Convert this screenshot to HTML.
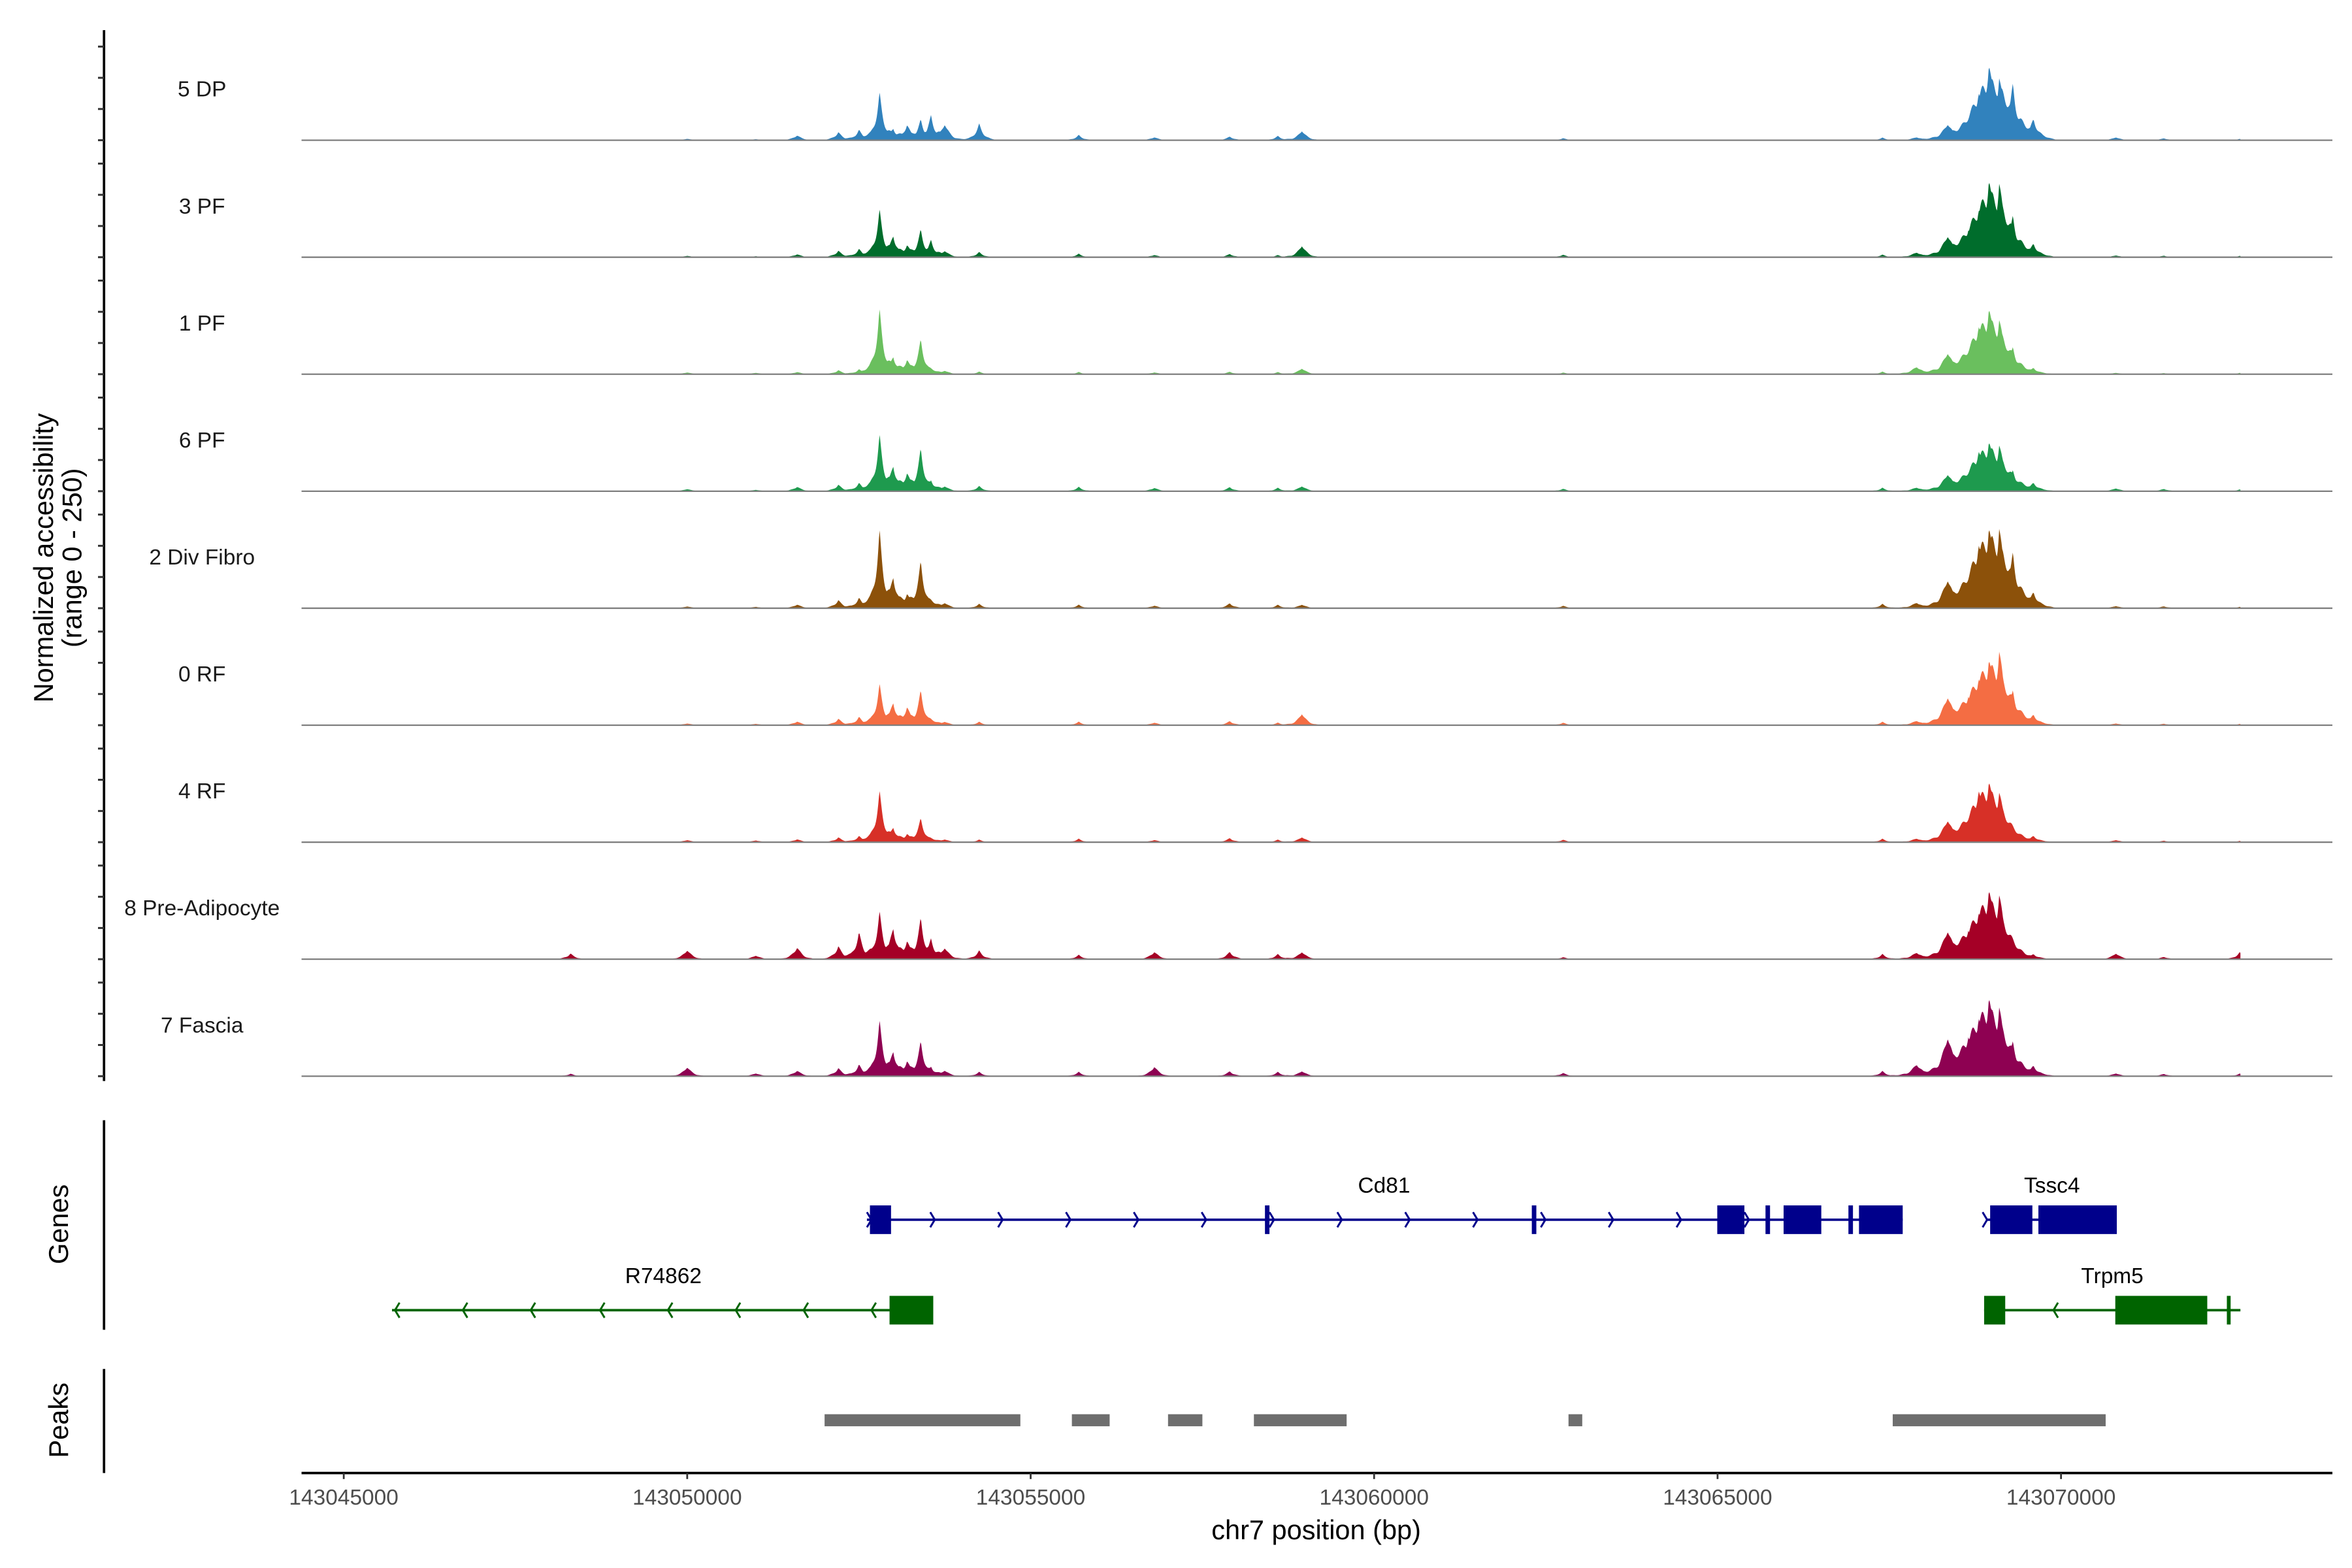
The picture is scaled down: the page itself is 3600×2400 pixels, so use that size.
<!DOCTYPE html>
<html><head><meta charset="utf-8"><style>html,body{margin:0;padding:0;background:#fff}svg{display:block}text{font-family:"Liberation Sans",sans-serif}</style></head>
<body>
<svg id="chart" width="3600" height="2400" viewBox="0 0 1560 1040" xmlns="http://www.w3.org/2000/svg">
<rect width="1560" height="1040" fill="#fff"/>
<g id="tracks"></g>
<g id="axes"></g>
<g id="genes"></g>
<g id="peaks"></g>
</svg>
<script>
const trackNames = ["5 DP","3 PF","1 PF","6 PF","2 Div Fibro","0 RF","4 RF","8 Pre-Adipocyte","7 Fascia"];
const trackColors = ["#3182bd","#006d2c","#6abf5e","#1e9a4e","#8c510a","#f46d43","#d73027","#a50026","#8e0152"];
const peakPos = [143048300,143050000,143051000,143051600,143052200,143052500,143052800,143053000,143053200,143053400,143053550,143053750,143054250,143055700,143056800,143057900,143058600,143058950,143062750,143067400,143067900,143068350,143068650,143068800,143068950,143069100,143069300,143069600,143070800,143071500,143072600];
const trackValues = [
 [0,4,3,13,20,25,110,30,40,48,58,45,38,12,8,9,10,26,5,6,8,45,50,130,200,160,130,50,8,5,3],
 [0,4,3,8,16,20,110,55,32,64,40,18,12,8,6,8,5,32,6,6,13,60,75,130,205,190,95,32,5,4,3],
 [0,5,4,6,10,12,150,45,38,80,12,10,6,5,5,6,5,16,4,6,20,60,60,132,175,140,62,15,4,3,3],
 [0,6,4,12,16,20,130,65,48,98,25,14,12,10,9,10,8,14,6,8,10,48,48,110,132,118,48,20,8,6,4],
 [0,5,4,10,20,25,180,80,38,108,20,15,10,8,7,12,8,10,6,10,15,80,80,175,215,205,128,38,6,5,3],
 [0,5,4,10,16,20,95,58,48,80,15,10,8,8,7,10,6,32,6,8,12,80,80,128,175,190,80,25,5,4,3],
 [0,6,5,8,12,15,118,38,22,55,10,8,6,8,6,10,6,14,6,8,10,62,62,142,162,128,38,15,6,4,3],
 [14,25,10,32,32,64,110,80,48,95,48,32,20,10,20,18,12,20,5,12,18,80,80,128,185,165,48,12,16,6,16],
 [6,25,8,15,20,28,128,64,40,80,22,16,10,10,26,12,10,14,8,12,32,110,110,160,210,178,80,25,8,6,6]
];
const xTicks = [143045000,143050000,143055000,143060000,143065000,143070000];
const peakRegions = [[143052000,143054850],[143055600,143056150],[143057000,143057500],[143058250,143059600],[143062830,143063030],[143067550,143070650]];
const NS="http://www.w3.org/2000/svg";
const bp0=143045000, px0=228, pxPer=227.8/5000;
const X = b => px0 + (b-bp0)*pxPer;
const trackTop=17, trackStep=77.6, trackH=75, maxV=250;
const xL=200, xR=1547, xEnd=1486;
function mk(tag, attrs, parent){const e=document.createElementNS(NS,tag);for(const k in attrs)e.setAttribute(k,attrs[k]);parent.appendChild(e);return e;}
const tracks=document.getElementById('tracks');
trackNames.forEach((nm,i)=>{
  const base = trackTop + trackStep*(i+1) - 1.6;
  const g=mk('g',{},tracks);
  
  
  let d='M'+xL+','+base;
  for(let x=xL; x<=xEnd; x+=0.5){
    const b = bp0 + (x-px0)/pxPer;
    let v=0, s=0;
    peakPos.forEach((p,j)=>{
      const big=(j>=20&&j<=27);
      const w=big?130:100; const h=trackValues[i][j]; const dd=Math.abs(b-p);
      const sharp=h*Math.exp(-dd/(w*0.75));
      const bf=big?0.42:0.3, bw=big?1.2:1.3;
      const broad=h*bf*Math.exp(-(dd*dd)/(2*(w*bw)*(w*bw)));
      v=Math.max(v,sharp); s+=broad;
    });
    v=Math.max(v, s*0.8) * (0.88+0.12*Math.cos(b/23));
    d+=' L'+x.toFixed(1)+','+(base - v/maxV*trackH).toFixed(2);
  }
  d+=' L'+xEnd+','+base+' Z';
  const a=mk('path',{d:d,fill:trackColors[i]},g);
  
  
  const bl=mk('line',{x1:xL,x2:xR,y1:base,y2:base,stroke:'#7f7f7f','stroke-width':1},g);
  
  
  const t=mk('text',{x:134,y:base-29,'font-size':14.5,'text-anchor':'middle',fill:'#1a1a1a'},g);
  t.textContent=nm;
  
  
});
const axes=document.getElementById('axes');
mk('line',{x1:69,x2:69,y1:20,y2:717,stroke:'#000','stroke-width':1.6},axes);
for(let i=0;i<9;i++){const base=trackTop+trackStep*(i+1)-1.6;for(let k=0;k<4;k++){const y=base-k*20.7;mk('line',{x1:65,x2:69,y1:y,y2:y,stroke:'#333','stroke-width':1.3},axes);}}
const yt=mk('text',{transform:'translate(35,370) rotate(-90)','font-size':18,'text-anchor':'middle'},axes);yt.textContent='Normalized accessibility';

const yt2=mk('text',{transform:'translate(54,370) rotate(-90)','font-size':18,'text-anchor':'middle'},axes);yt2.textContent='(range 0 - 250)';

mk('line',{x1:69,x2:69,y1:743,y2:882,stroke:'#000','stroke-width':1.6},axes);
mk('line',{x1:69,x2:69,y1:908,y2:977,stroke:'#000','stroke-width':1.6},axes);
const gt=mk('text',{transform:'translate(45,812) rotate(-90)','font-size':18,'text-anchor':'middle'},axes);gt.textContent='Genes';

const pt=mk('text',{transform:'translate(45,942) rotate(-90)','font-size':18,'text-anchor':'middle'},axes);pt.textContent='Peaks';

mk('line',{x1:xL,x2:xR,y1:977,y2:977,stroke:'#000','stroke-width':1.6},axes);
xTicks.forEach(b=>{const x=X(b);mk('line',{x1:x,x2:x,y1:977,y2:981,stroke:'#333','stroke-width':1.2},axes);
 const t=mk('text',{x:x,y:998,'font-size':14.5,'text-anchor':'middle',fill:'#4d4d4d'},axes);t.textContent=String(b);
 });
const xt=mk('text',{x:873,y:1021,'font-size':18,'text-anchor':'middle'},axes);xt.textContent='chr7 position (bp)';

const genes=document.getElementById('genes');
function gene(name,color,y,x1,x2,exons,arrows,dir,lx,ly){
 const g=mk('g',{},genes);
 
 
 mk('line',{x1:x1,x2:x2,y1:y,y2:y,stroke:color,'stroke-width':1.6},g);
 exons.forEach(e=>mk('rect',{x:e[0],y:y-9.5,width:e[1]-e[0],height:19,fill:color},g));
 arrows.forEach(a=>{const s=dir>0?-1:1;mk('path',{d:`M${a+s*3},${y-5} L${a},${y} L${a+s*3},${y+5}`,stroke:color,fill:'none','stroke-width':1.3},g);});
 const t=mk('text',{x:lx,y:ly,'font-size':14.5,'text-anchor':'middle'},g);t.textContent=name;
}
gene('Cd81','#00008b',809,575,1262,[[577,591],[839,842],[1016,1019],[1139,1157],[1171,1174],[1183,1208],[1226,1229],[1233,1262]],[578,620,665,710,755,800,845,890,935,980,1025,1070,1115,1160],1,918,791);
gene('Tssc4','#00008b',809,1318,1404,[[1320,1348],[1352,1404]],[1318],1,1361,791);
gene('R74862','#006400',869,260,590,[[590,619]],[262,307,352,398,443,488,533,578],-1,440,851);
gene('Trpm5','#006400',869,1316,1486,[[1316,1330],[1403,1464],[1477,1479.5]],[1362],-1,1401,851);
const peaks=document.getElementById('peaks');
peakRegions.forEach(r=>{const e=mk('rect',{x:X(r[0]),y:938,width:X(r[1])-X(r[0]),height:8,fill:'#6e6e6e'},peaks);
 });
</script>
</body></html>
